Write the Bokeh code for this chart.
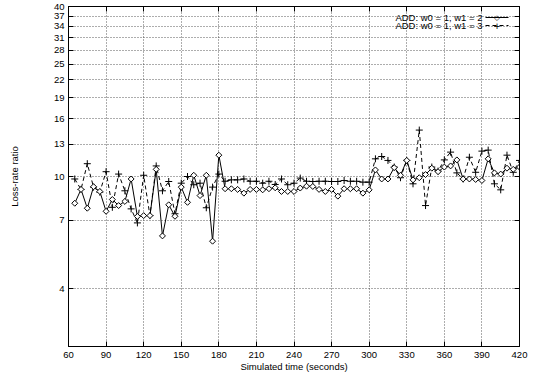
import math
from bokeh.plotting import figure
from bokeh.models import (Range1d, FixedTicker, LinearAxis, LogAxis, Label, Arrow,
                          CustomJSTickFormatter)
from bokeh.embed import file_html
from bokeh.resources import INLINE

# ---------------- data ----------------
time_s = list(range(65, 421, 5))
ratio_w1_2 = [8.04, 9.0, 7.72, 9.2, 8.85, 7.53, 8.29, 7.89, 8.16, 9.8,
              7.22, 7.27, 7.27, 10.6, 6.16, 7.94, 7.23, 9.17, 8.1, 10.1,
              8.56, 10.1, 5.9, 11.9, 9.05, 9.05, 9.0, 8.73, 9.0, 9.0,
              8.97, 9.05, 9.12, 8.85, 8.85, 8.85, 9.1, 9.24, 9.22, 9.0,
              8.85, 9.0, 8.52, 9.05, 9.05, 9.05, 8.73, 8.97, 10.55, 9.8,
              9.8, 10.75, 10.1, 11.4, 9.73, 9.9, 10.16, 10.7, 10.4, 10.8,
              10.9, 11.45, 9.8, 9.8, 9.76, 9.68, 11.55, 10.3, 10.2, 10.7,
              10.6, 10.8]
ratio_w1_3 = [9.8, 9.0, 11.1, 9.17, 8.8, 10.4, 7.78, 10.2, 8.9, 7.68,
              6.85, 10.1, 7.27, 10.9, 8.9, 9.6, 7.38, 9.47, 10.0, 9.35,
              9.47, 7.75, 9.17, 10.2, 9.62, 9.73, 9.73, 9.8, 9.62, 9.62,
              9.47, 9.62, 9.37, 9.8, 9.35, 9.47, 9.87, 9.62, 9.6, 9.62,
              9.62, 9.6, 9.6, 9.68, 9.62, 9.62, 9.55, 9.55, 11.55, 11.77,
              11.4, 10.8, 9.9, 11.4, 9.42, 14.6, 7.89, 10.8, 10.45, 11.45,
              12.2, 10.3, 9.8, 11.7, 10.35, 12.3, 12.4, 9.42, 8.97, 11.9,
              10.35, 11.4]
x_ticks = [60, 90, 120, 150, 180, 210, 240, 270, 300, 330, 360, 390, 420]
y_ticks = [4, 7, 10, 13, 16, 19, 22, 25, 28, 31, 34, 37, 40]
series_labels = ["ADD: w0 = 1, w1 = 2", "ADD: w0 = 1, w1 = 3"]
x_label = "Simulated time (seconds)"
y_label = "Loss-rate ratio"

FONT = "Liberation Sans"
FS = "9.5px"

p = figure(width=535, height=378, output_backend="svg", toolbar_location=None,
           y_axis_type="log", x_range=Range1d(60, 420), y_range=Range1d(2.5, 40),
           min_border_left=68, min_border_right=16, min_border_top=6,
           min_border_bottom=32)
p.background_fill_color = "white"
p.border_fill_color = "white"
p.outline_line_color = "black"
p.outline_line_width = 1

xt = FixedTicker(ticks=x_ticks, minor_ticks=[])
yt = FixedTicker(ticks=y_ticks, minor_ticks=[])
fmt = CustomJSTickFormatter(code="return tick.toFixed(0);")
blank = CustomJSTickFormatter(code="return '';")


def style_axis(ax):
    ax.major_tick_in = 5
    ax.major_tick_out = 0
    ax.minor_tick_in = 0
    ax.minor_tick_out = 0
    ax.axis_line_color = "black"
    ax.major_tick_line_color = "black"
    ax.major_label_text_font = FONT
    ax.major_label_text_color = "black"
    ax.major_label_text_font_size = FS
    ax.axis_label_text_font = FONT
    ax.axis_label_text_font_style = "normal"
    ax.axis_label_text_font_size = FS
    ax.axis_label_text_color = "black"


xa = p.xaxis[0]
xa.ticker = xt
style_axis(xa)
xa.major_label_standoff = 5
xa.axis_label = x_label
xa.axis_label_standoff = 0

ya = p.yaxis[0]
ya.ticker = yt
ya.formatter = fmt
style_axis(ya)
ya.major_label_standoff = 4
ya.axis_label = y_label
ya.axis_label_standoff = 31

top = LinearAxis(ticker=FixedTicker(ticks=x_ticks, minor_ticks=[]), formatter=blank)
style_axis(top)
top.major_label_standoff = 0
p.add_layout(top, "above")
right = LogAxis(ticker=FixedTicker(ticks=y_ticks, minor_ticks=[]), formatter=blank)
style_axis(right)
right.major_label_standoff = 0
p.add_layout(right, "right")

for g in (p.xgrid[0], p.ygrid[0]):
    g.grid_line_color = "#333333"
    g.grid_line_dash = "1 2"
    g.grid_line_width = 1
    g.grid_line_alpha = 0.8
p.xgrid[0].ticker = xt
p.ygrid[0].ticker = yt

# series w1 = 3 (dashed, plus markers)
p.line(time_s, ratio_w1_3, line_color="black", line_width=1, line_dash="4 3")
p.scatter(time_s, ratio_w1_3, marker="cross", size=7, line_color="black",
          line_width=1)
# series w1 = 2 (solid, diamond markers)
p.line(time_s, ratio_w1_2, line_color="black", line_width=1)
p.scatter(time_s, ratio_w1_2, marker="square", angle=math.pi / 4, size=4.2,
          line_color="black", fill_color="white", line_width=1)

# legend (text left of sample, as in the reference)
frame_h = 378 - 6 - 32
for i, lab in enumerate(series_labels):
    yy = frame_h - 11 - 8 * i
    p.add_layout(Label(x=414, y=yy, x_units="screen", y_units="screen", text=lab,
                       text_align="right", text_baseline="middle",
                       text_font=FONT, text_font_size=FS, text_color="black"))
    p.add_layout(Arrow(x_start=417, y_start=yy, x_end=440, y_end=yy,
                       start_units="screen", end_units="screen", end=None,
                       line_color="black", line_width=1,
                       line_dash="solid" if i == 0 else "4 3"))
    p.add_layout(Label(x=428.5, y=yy, x_units="screen", y_units="screen",
                       text="\u25c7" if i == 0 else "+", text_align="center",
                       text_baseline="middle", text_font="DejaVu Sans",
                       text_font_size="7px" if i == 0 else "9px",
                       text_color="black"))

open("out.html", "w").write(file_html(p, INLINE))
